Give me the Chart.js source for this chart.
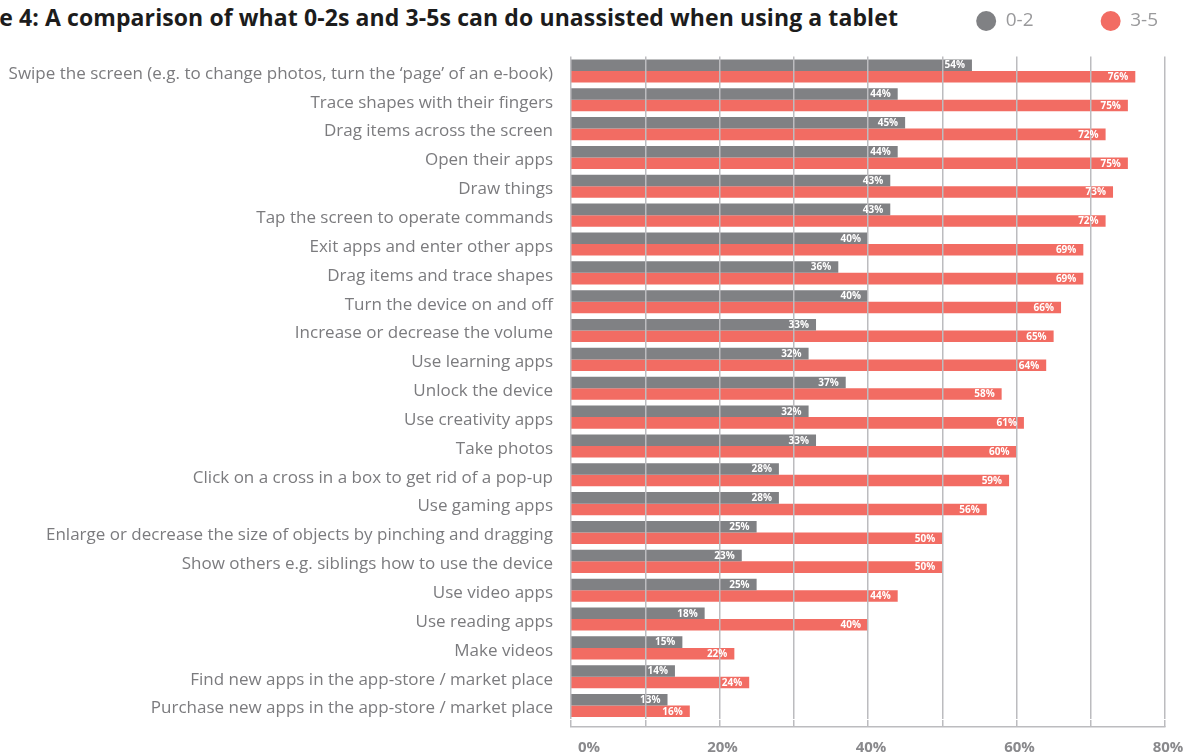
<!DOCTYPE html>
<html>
<head>
<meta charset="utf-8">
<script src="https://cdn.jsdelivr.net/npm/chart.js@4/dist/chart.umd.min.js"></script>
<style>
  html, body { margin: 0; padding: 0; background: #fff; }
  #wrap { position: relative; width: 1188px; height: 756px; overflow: hidden; }
  #title {
    position: absolute; right: 290px; top: 1px; white-space: nowrap;
    font: bold 23px "Open Sans", sans-serif; color: #1c1c1c; letter-spacing: 0.1px;
  }
  canvas { position: absolute; left: 0; top: 0; }
</style>
</head>
<body>
<div id="wrap">
  <div id="title">Figure 4: A comparison of what 0-2s and 3-5s can do unassisted when using a tablet</div>
  <canvas id="c" width="1188" height="756"></canvas>
</div>
<script>
// Tasks a child can do alone on a tablet, by age group (% of children)
const categories = [
  'Swipe the screen (e.g. to change photos, turn the \u2018page\u2019 of an e-book)',
  'Trace shapes with their fingers',
  'Drag items across the screen',
  'Open their apps',
  'Draw things',
  'Tap the screen to operate commands',
  'Exit apps and enter other apps',
  'Drag items and trace shapes',
  'Turn the device on and off',
  'Increase or decrease the volume',
  'Use learning apps',
  'Unlock the device',
  'Use creativity apps',
  'Take photos',
  'Click on a cross in a box to get rid of a pop-up',
  'Use gaming apps',
  'Enlarge or decrease the size of objects by pinching and dragging',
  'Show others e.g. siblings how to use the device',
  'Use video apps',
  'Use reading apps',
  'Make videos',
  'Find new apps in the app-store / market place',
  'Purchase new apps in the app-store / market place'
];
const ages0to2 = [54, 44, 45, 44, 43, 43, 40, 36, 40, 33, 32, 37, 32, 33, 28, 28, 25, 23, 25, 18, 15, 14, 13];
const ages3to5 = [76, 75, 72, 75, 73, 72, 69, 69, 66, 65, 64, 58, 61, 60, 59, 56, 50, 50, 44, 40, 22, 24, 16];
const seriesNames = ['0-2', '3-5'];
const xTickValues = [0, 20, 40, 60, 80];

const FONT = '"Open Sans", sans-serif';
const GRID = '#bcbcbf';

// white value labels at the inner end of every bar
const barValueLabels = {
  id: 'barValueLabels',
  afterDraw(chart) {
    const ctx = chart.ctx;
    ctx.save();
    ctx.font = 'bold 10px ' + FONT;
    ctx.fillStyle = '#ffffff';
    ctx.textAlign = 'right';
    ctx.textBaseline = 'middle';
    chart.data.datasets.forEach((ds, i) => {
      chart.getDatasetMeta(i).data.forEach((bar, j) => {
        ctx.fillText(ds.data[j] + '%', bar.x - 7, bar.y + 0.5);
      });
    });
    ctx.restore();
  }
};

new Chart(document.getElementById('c'), {
  type: 'bar',
  data: {
    labels: categories,
    datasets: [
      { label: seriesNames[0], data: ages0to2, backgroundColor: '#808184' },
      { label: seriesNames[1], data: ages3to5, backgroundColor: '#f26c63' }
    ]
  },
  options: {
    indexAxis: 'y',
    responsive: false,
    animation: false,
    events: [],
    datasets: { bar: { categoryPercentage: 0.8, barPercentage: 1.0 } },
    layout: { padding: { top: 4.5, right: 23, bottom: 0, left: 0 } },
    plugins: {
      tooltip: { enabled: false },
      legend: {
        position: 'top',
        align: 'end',
        labels: {
          usePointStyle: true,
          pointStyle: 'circle',
          pointStyleWidth: 20,
          boxHeight: 14.2,
          padding: 7,
          color: '#9a9a9c',
          font: { family: FONT, size: 19 },
          generateLabels(chart) {
            const items = Chart.defaults.plugins.legend.labels.generateLabels(chart);
            items[0].text += '\u2003\u2003\u2003\u2009';
            return items;
          }
        }
      }
    },
    scales: {
      // blank strip between the legend and the plot
      topGap: {
        type: 'linear',
        position: 'top',
        display: true,
        grid: { display: false },
        border: { display: false },
        ticks: { display: false },
        afterFit(scale) { scale.height = 16; }
      },
      // short strip under the last row where the grid lines run down to the axis line
      gridRun: {
        type: 'linear',
        position: 'bottom',
        weight: 0,
        min: 0,
        max: 80,
        grid: { display: true, drawOnChartArea: false, drawTicks: true, tickLength: 7, color: GRID, lineWidth: 1.5 },
        border: { display: false },
        ticks: { display: false, stepSize: 10 },
        afterFit(scale) {
          scale.height = 7;
          scale.paddingLeft = 0;
          scale.paddingRight = 0;
        }
      },
      x: {
        type: 'linear',
        position: 'bottom',
        weight: 1,
        min: 0,
        max: 80,
        grid: { color: GRID, lineWidth: 1.5, drawTicks: false, z: 1 },
        border: { display: true, color: GRID, width: 1.5, z: 1 },
        ticks: {
          stepSize: 10,
          padding: 12,
          labelOffset: 3,
          color: '#89898c',
          font: { family: FONT, size: 15, weight: 'bold' },
          callback(value) {
            if (!xTickValues.includes(value)) return '';
            return value === 0 ? '\u2002\u2002\u2002\u20020%' : value + '%';
          }
        },
        afterFit(scale) {
          scale.height = 29;
          scale.paddingLeft = 0;
          scale.paddingRight = 0;
        }
      },
      y: {
        type: 'category',
        grid: { display: false, drawTicks: false },
        border: { display: false },
        ticks: {
          padding: 18,
          labelOffset: 3,
          color: '#7b7b7e',
          font: { family: FONT, size: 17 }
        },
        afterFit(scale) { scale.width = 571; }
      }
    }
  },
  plugins: [barValueLabels]
});
</script>
</body>
</html>
